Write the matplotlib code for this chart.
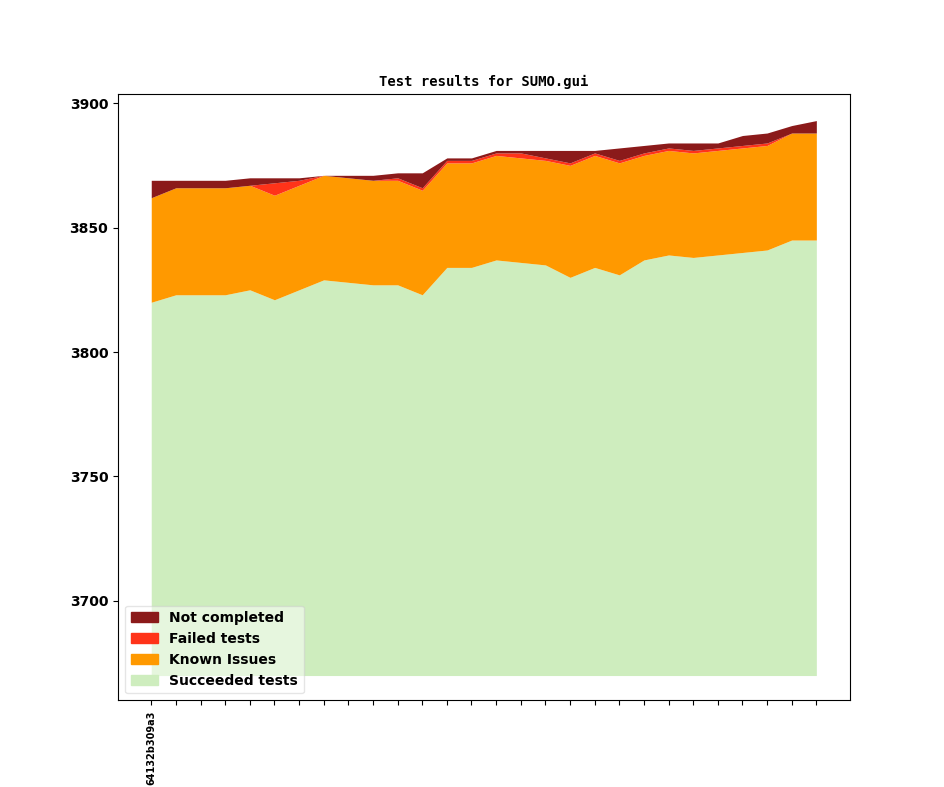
import numpy as np
import matplotlib
matplotlib.use('Agg')
import matplotlib.pyplot as plt
from matplotlib.patches import Patch

# one entry per tested revision
revisions = ['64132b309a3'] + [''] * 27
succeeded = [3820, 3823, 3823, 3823, 3825, 3821, 3825, 3829, 3828, 3827,
             3827, 3823, 3834, 3834, 3837, 3836, 3835, 3830, 3834, 3831,
             3837, 3839, 3838, 3839, 3840, 3841, 3845, 3845]
known = [42, 43, 43, 43, 42, 42, 42, 42, 42, 42,
         42, 42, 42, 42, 42, 42, 42, 45, 45, 45,
         42, 42, 42, 42, 42, 42, 43, 43]
failed = [0, 0, 0, 0, 0, 5, 2, 0, 0, 0,
          1, 1, 1, 1, 1, 2, 1, 1, 1, 1,
          1, 1, 1, 1, 1, 1, 0, 0]
not_completed = [7, 3, 3, 3, 3, 2, 1, 0, 1, 2,
                 2, 6, 1, 1, 1, 1, 3, 5, 1, 5,
                 3, 2, 3, 2, 4, 4, 3, 5]
baseline = 3670

colors = {
    'Not completed': '#8b1a1a',
    'Failed tests': '#ff3319',
    'Known Issues': '#ff9900',
    'Succeeded tests': '#ceedbe',
}

x = np.arange(len(revisions))
s = np.array(succeeded)
k = s + np.array(known)
f = k + np.array(failed)
n = f + np.array(not_completed)

fig = plt.figure(figsize=(9.44, 7.87), dpi=100)
ax = fig.add_subplot(111)

ax.fill_between(x, baseline, s, color=colors['Succeeded tests'], lw=0)
ax.fill_between(x, s, k, color=colors['Known Issues'], lw=0)
ax.fill_between(x, k, f, color=colors['Failed tests'], lw=0)
ax.fill_between(x, f, n, color=colors['Not completed'], lw=0)

ax.set_ylim(3660, 3903.5)
ax.set_yticks([3700, 3750, 3800, 3850, 3900])
for lbl in ax.get_yticklabels():
    lbl.set_fontweight('bold')
    lbl.set_fontsize(10)

ax.set_xticks(x)
ax.set_xticklabels(revisions, rotation=90, fontsize=7, fontweight='bold')

ax.set_title('Test results for SUMO.gui', family='monospace',
             fontweight='bold', fontsize=10)

handles = [Patch(color=c, label=l) for l, c in colors.items()]
ax.legend(handles=handles, loc='lower left', framealpha=0.5,
          prop={'weight': 'bold', 'size': 10})

fig.savefig('out.png', dpi=100)
